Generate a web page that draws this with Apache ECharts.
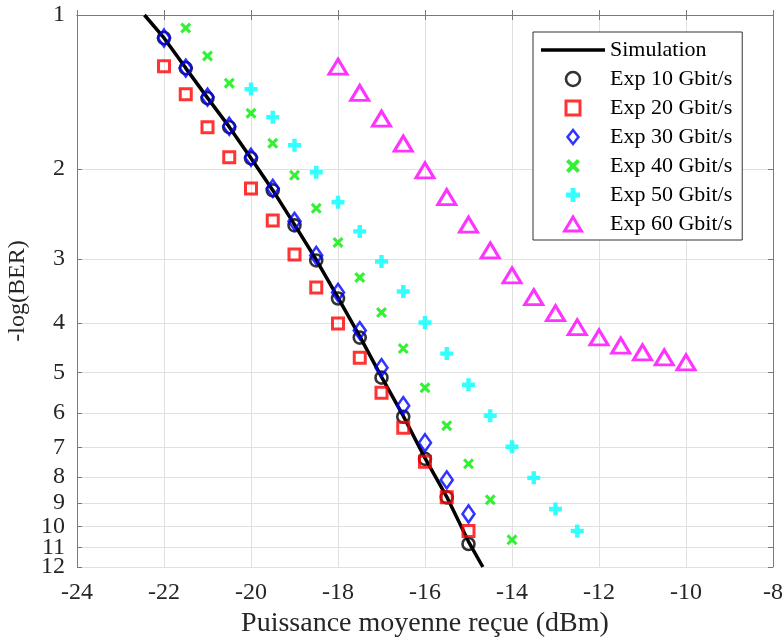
<!DOCTYPE html>
<html><head><meta charset="utf-8">
<script src="https://cdn.jsdelivr.net/npm/echarts@6/dist/echarts.min.js"></script>
<style>html,body{margin:0;padding:0;background:#fff}#c{width:783px;height:639px}</style>
</head><body><div id="c"></div>
<script>
// ---- data ----
const xTicks = [-24, -22, -20, -18, -16, -14, -12, -10, -8];
const yTickLabels = [1, 2, 3, 4, 5, 6, 7, 8, 9, 10, 11, 12];

const simX = [-22.45, -22, -21.5, -21, -20.5, -20, -19.5, -19, -18.5, -18, -17.5, -17, -16.5, -16, -15.5, -15, -14.67];
const simY = [1.0, 1.109, 1.27, 1.452, 1.655, 1.905, 2.2, 2.57, 3.01, 3.57, 4.25, 5.1, 6.08, 7.35, 8.75, 10.7, 12];

const exp10X = [-22, -21.5, -21, -20.5, -20, -19.5, -19, -18.5, -18, -17.5, -17, -16.5, -16, -15.5, -15];
const exp10Y = [1.109, 1.270, 1.454, 1.657, 1.906, 2.202, 2.578, 3.019, 3.583, 4.273, 5.117, 6.101, 7.374, 8.771, 10.82];

const exp20X = [-22, -21.5, -21, -20.5, -20, -19.5, -19, -18.5, -18, -17.5, -17, -16.5, -16, -15.5, -15];
const exp20Y = [1.259, 1.428, 1.657, 1.897, 2.183, 2.521, 2.939, 3.410, 4.011, 4.676, 5.477, 6.412, 7.474, 8.771, 10.20];

const exp30X = [-22, -21.5, -21, -20.5, -20, -19.5, -19, -18.5, -18, -17.5, -17, -16.5, -16, -15.5, -15];
const exp30Y = [1.109, 1.270, 1.447, 1.650, 1.897, 2.183, 2.532, 2.952, 3.487, 4.140, 4.892, 5.805, 6.860, 8.107, 9.451];

const exp40X = [-21.5, -21, -20.5, -20, -19.5, -19, -18.5, -18, -17.5, -17, -16.5, -16, -15.5, -15, -14.5, -14];
const exp40Y = [1.060, 1.203, 1.359, 1.556, 1.781, 2.058, 2.388, 2.784, 3.260, 3.816, 4.490, 5.355, 6.354, 7.542, 8.870, 10.62];

const exp50X = [-20, -19.5, -19, -18.5, -18, -17.5, -17, -16.5, -16, -15.5, -15, -14.5, -14, -13.5, -13, -12.5];
const exp50Y = [1.396, 1.584, 1.798, 2.030, 2.324, 2.649, 3.033, 3.472, 3.993, 4.592, 5.283, 6.073, 6.985, 8.034, 9.244, 10.20];

const exp60X = [-18, -17.5, -17, -16.5, -16, -15.5, -15, -14.5, -14, -13.5, -13, -12.5, -12, -11.5, -11, -10.5, -10];
const exp60Y = [1.262, 1.420, 1.594, 1.784, 2.012, 2.270, 2.570, 2.886, 3.230, 3.562, 3.828, 4.078, 4.267, 4.430, 4.566, 4.669, 4.776];

const seriesNames = ['Simulation', 'Exp 10 Gbit/s', 'Exp 20 Gbit/s', 'Exp 30 Gbit/s', 'Exp 40 Gbit/s', 'Exp 50 Gbit/s', 'Exp 60 Gbit/s'];

// ---- chart ----
const FONT = "'Liberation Serif', 'Times New Roman', serif";
const tr = v => Math.log10(v);
const pairs = (xs, ys) => xs.map((x, i) => [x, tr(ys[i])]);
const yTickPos = yTickLabels.map(tr);
// labels split over two axes so that ECharts' neighbour-overlap hiding keeps all of them
const yLabA = yTickLabels.filter((v, i) => i !== yTickLabels.length - 2).map(tr);
const yLabB = [tr(yTickLabels[yTickLabels.length - 2])];
const yMax = tr(yTickLabels[yTickLabels.length - 1]);
const AX = '#7a7a7a';
const GRIDC = '#e0e0e0';
const TXT = '#262626';

const crossPath = 'path://M2,0L5,3L8,0L10,2L7,5L10,8L8,10L5,7L2,10L0,8L3,5L0,2Z';
const plusPath = 'path://M3.3,0H6.7V3.3H10V6.7H6.7V10H3.3V6.7H0V3.3H3.3Z';
const icons = {
  line: 'path://M0,0H64V3.5H0Z',
  circle: 'path://M0,10A10,10,0,1,0,20,10A10,10,0,1,0,0,10Z',
  square: 'path://M0,0H10V10H0Z',
  diamond: 'path://M7,0L14,9L7,18L0,9Z',
  triangle: 'path://M9,0L18,15H0Z'
};
const legendIcons = [icons.line, icons.circle, icons.square, icons.diamond, crossPath, plusPath, icons.triangle];

function hollow(name, xs, ys, symbol, size, color, bw) {
  return {
    name, type: 'scatter', data: pairs(xs, ys), symbol, symbolSize: size,
    itemStyle: { color: 'rgba(0,0,0,0)', borderColor: color, borderWidth: bw },
    emphasis: { disabled: true }
  };
}
function filled(name, xs, ys, symbol, size, color) {
  return {
    name, type: 'scatter', data: pairs(xs, ys), symbol, symbolSize: size,
    itemStyle: { color: color, borderWidth: 0 },
    emphasis: { disabled: true }
  };
}
const yLabelStyle = (vals) => ({
  fontFamily: FONT, fontSize: 24, color: TXT, margin: 12, hideOverlap: false,
  customValues: vals, showMinLabel: true, showMaxLabel: true,
  formatter: v => String(Math.round(Math.pow(10, v)))
});

const chart = echarts.init(document.getElementById('c'), null, { renderer: 'canvas' });
chart.setOption({
  animation: false,
  backgroundColor: '#fff',
  grid: { left: 77, right: 10, top: 15, bottom: 72, show: false, containLabel: false, outerBoundsMode: 'none' },
  legend: {
    orient: 'vertical', left: 533, top: 32,
    padding: [7, 10, 5, 8],
    itemWidth: 64, itemHeight: 14, itemGap: 7,
    symbolKeepAspect: true,
    backgroundColor: '#fff', borderColor: '#333', borderWidth: 1, borderRadius: 0,
    textStyle: { fontFamily: FONT, fontSize: 22, color: '#000', lineHeight: 22 },
    itemStyle: { borderWidth: 'inherit' },
    data: seriesNames.map((n, i) => ({ name: n, icon: legendIcons[i] }))
  },
  xAxis: [{
    type: 'value', min: xTicks[0], max: xTicks[xTicks.length - 1], interval: 2,
    name: 'Puissance moyenne reçue (dBm)', nameLocation: 'middle', nameGap: 33,
    nameTextStyle: { fontFamily: FONT, fontSize: 28, color: TXT },
    axisLine: { show: true, lineStyle: { color: AX, width: 1 } },
    axisTick: { show: true, inside: true, length: 5, lineStyle: { color: AX } },
    axisLabel: { fontFamily: FONT, fontSize: 24, color: TXT, margin: 14, hideOverlap: false },
    splitLine: { show: true, lineStyle: { color: GRIDC, width: 1 } }
  }, {
    type: 'value', position: 'top', min: xTicks[0], max: xTicks[xTicks.length - 1], interval: 2,
    axisLine: { show: true, lineStyle: { color: AX, width: 1 } },
    axisTick: { show: true, inside: true, length: 5, lineStyle: { color: AX } },
    axisLabel: { show: false }, splitLine: { show: false }
  }],
  yAxis: [{
    type: 'value', min: 0, max: yMax, inverse: true,
    name: '-log(BER)', nameLocation: 'middle', nameGap: 40,
    nameTextStyle: { fontFamily: FONT, fontSize: 24, color: TXT },
    axisLine: { show: true, lineStyle: { color: AX, width: 1 } },
    axisTick: { show: true, inside: true, length: 5, lineStyle: { color: AX }, customValues: yTickPos },
    axisLabel: yLabelStyle(yLabA),
    splitLine: { show: true, lineStyle: { color: GRIDC, width: 1 } }
  }, {
    type: 'value', position: 'right', min: 0, max: yMax, inverse: true,
    axisLine: { show: true, lineStyle: { color: AX, width: 1 } },
    axisTick: { show: true, inside: true, length: 5, lineStyle: { color: AX }, customValues: yTickPos },
    axisLabel: { show: false }, splitLine: { show: false }
  }, {
    type: 'value', position: 'left', offset: 0, min: 0, max: yMax, inverse: true,
    axisLine: { show: false }, axisTick: { show: false }, splitLine: { show: false },
    axisLabel: yLabelStyle(yLabB)
  }],
  series: [
    {
      name: seriesNames[0], type: 'line', data: pairs(simX, simY), symbol: 'none',
      lineStyle: { color: '#000', width: 3.5 }, itemStyle: { color: '#000' },
      emphasis: { disabled: true }, z: 2
    },
    hollow(seriesNames[1], exp10X, exp10Y, 'circle', 12, '#000', 2.6),
    hollow(seriesNames[2], exp20X, exp20Y, 'rect', 11, '#ff0000', 3),
    hollow(seriesNames[3], exp30X, exp30Y, 'diamond', [12, 17], '#0000ff', 2.6),
    filled(seriesNames[4], exp40X, exp40Y, crossPath, 11, '#00ee00'),
    filled(seriesNames[5], exp50X, exp50Y, plusPath, 13, '#00ffff'),
    hollow(seriesNames[6], exp60X, exp60Y, 'triangle', [18, 15], '#ff00ff', 3)
  ]
});
</script>
</body></html>
